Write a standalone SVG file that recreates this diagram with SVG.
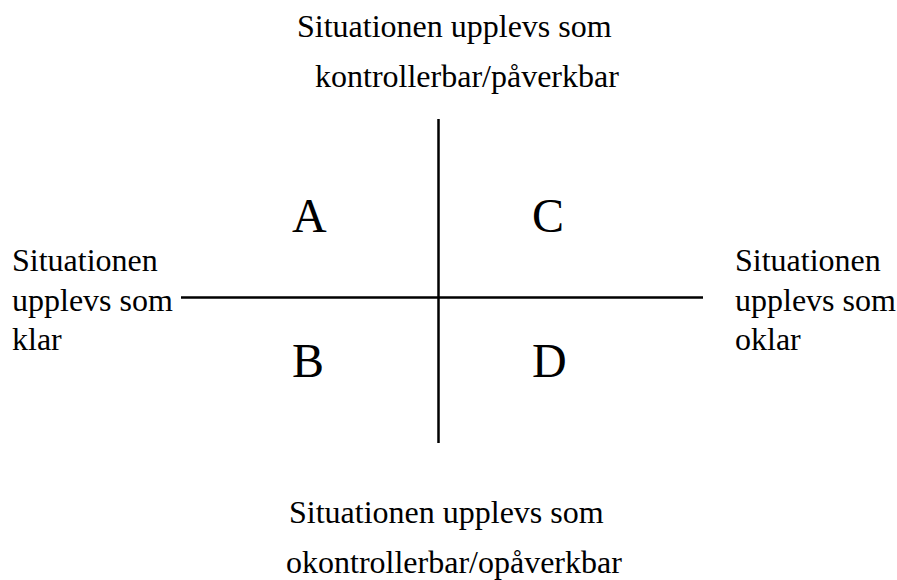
<svg xmlns="http://www.w3.org/2000/svg" width="897" height="580" viewBox="0 0 897 580">
<style>
text{font-family:"Liberation Serif","Times New Roman",serif;fill:#000}
.t{font-size:32px}
.q{font-size:48px}
.ax{stroke:#000;stroke-width:2.5;fill:none}
</style>
<rect width="897" height="580" fill="#fff"/>
<g id="connectors">
<line class="ax" x1="438.5" y1="119" x2="438.5" y2="443"/>
<line class="ax" x1="181" y1="297.5" x2="703" y2="297.5"/>
</g>
<g id="top"><text class="t" x="297" y="37">Situationen upplevs som</text><text class="t" x="315" y="87">kontrollerbar/påverkbar</text></g>
<g id="bottom"><text class="t" x="289" y="523">Situationen upplevs som</text><text class="t" x="286" y="573">okontrollerbar/opåverkbar</text></g>
<g id="left"><text class="t" x="12" y="271">Situationen</text><text class="t" x="12" y="311">upplevs som</text><text class="t" x="12" y="350">klar</text></g>
<g id="right"><text class="t" x="735" y="271">Situationen</text><text class="t" x="735" y="311">upplevs som</text><text class="t" x="735" y="350">oklar</text></g>
<g id="A"><text class="q" x="292" y="232">A</text></g>
<g id="B"><text class="q" x="292" y="377">B</text></g>
<g id="C"><text class="q" x="532" y="232">C</text></g>
<g id="D"><text class="q" x="532" y="377">D</text></g>
</svg>
